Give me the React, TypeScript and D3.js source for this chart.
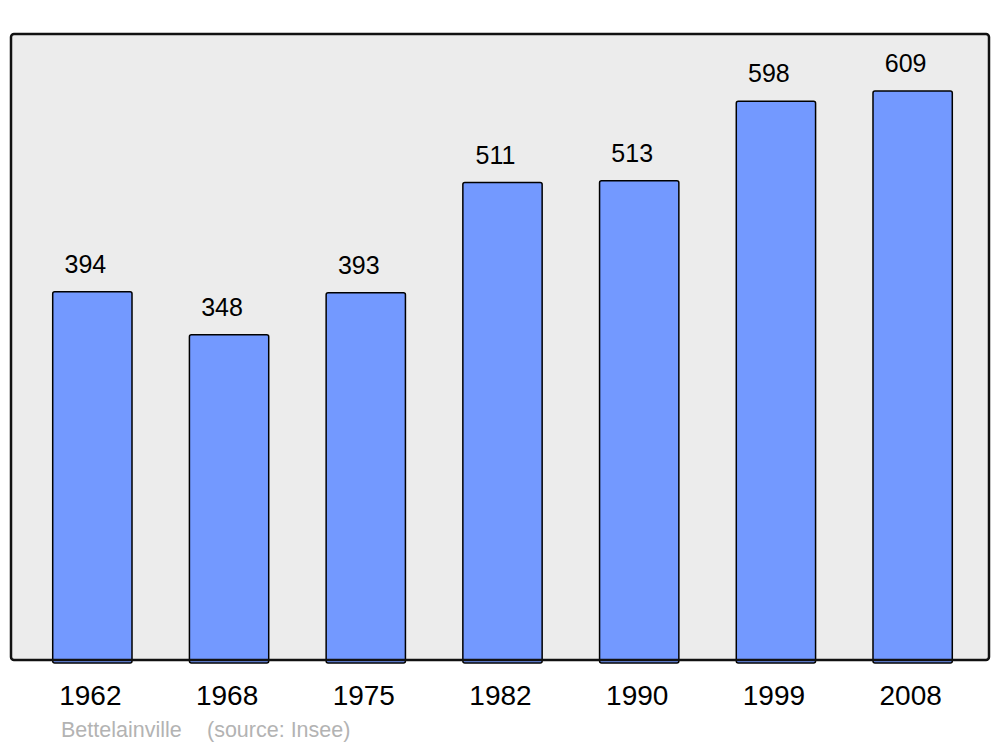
import React from "react";
import * as d3 from "d3";

const years = ["1962", "1968", "1975", "1982", "1990", "1999", "2008"];
const population = [394, 348, 393, 511, 513, 598, 609];
const yMax = 670;
const footerPlace = "Bettelainville";
const footerSource = "(source: Insee)";

export default function App() {
  const W = 1000, H = 747;
  const frame = { x: 11, y: 34, w: 978, h: 626 };
  const x = d3.scaleBand<string>().domain(years).range([24, 981]).paddingInner(0.42).paddingOuter(0.21);
  const y = d3.scaleLinear().domain([0, yMax]).range([frame.y + frame.h, frame.y]);
  const font = "'Liberation Sans', Arial, sans-serif";
  return (
    <svg width={W} height={H} style={{ position: "absolute", left: 0, top: 0 }}>
      <rect x={0} y={0} width={W} height={H} fill="#ffffff" />
      <rect x={frame.x} y={frame.y} width={frame.w} height={frame.h} rx={3} ry={3} fill="#ececec" stroke="none" />
      {years.map((yr, i) => {
        const v = population[i];
        const bx = x(yr)!;
        const top = y(v);
        return (
          <g key={yr}>
            <rect x={bx} y={top} width={x.bandwidth()} height={y(0) - top + 3} rx={2} ry={2}
              fill="#7399ff" stroke="#000" strokeWidth={1.5} />
            <text x={bx + x.bandwidth() / 2 - 7} y={top - 19} textAnchor="middle" fontFamily={font} fontSize={25} fill="#000">{v}</text>
            <text x={bx + x.bandwidth() / 2 - 2} y={705} textAnchor="middle" fontFamily={font} fontSize={28} fill="#000">{yr}</text>
          </g>
        );
      })}
      <rect x={frame.x} y={frame.y} width={frame.w} height={frame.h} rx={3} ry={3} fill="none" stroke="#111" strokeWidth={2.5} />
      <text x={61} y={737} fontFamily={font} fontSize={21.5} fill="#b3b3b3">{footerPlace}</text>
      <text x={207} y={737} fontFamily={font} fontSize={21.5} fill="#b3b3b3">{footerSource}</text>
    </svg>
  );
}
